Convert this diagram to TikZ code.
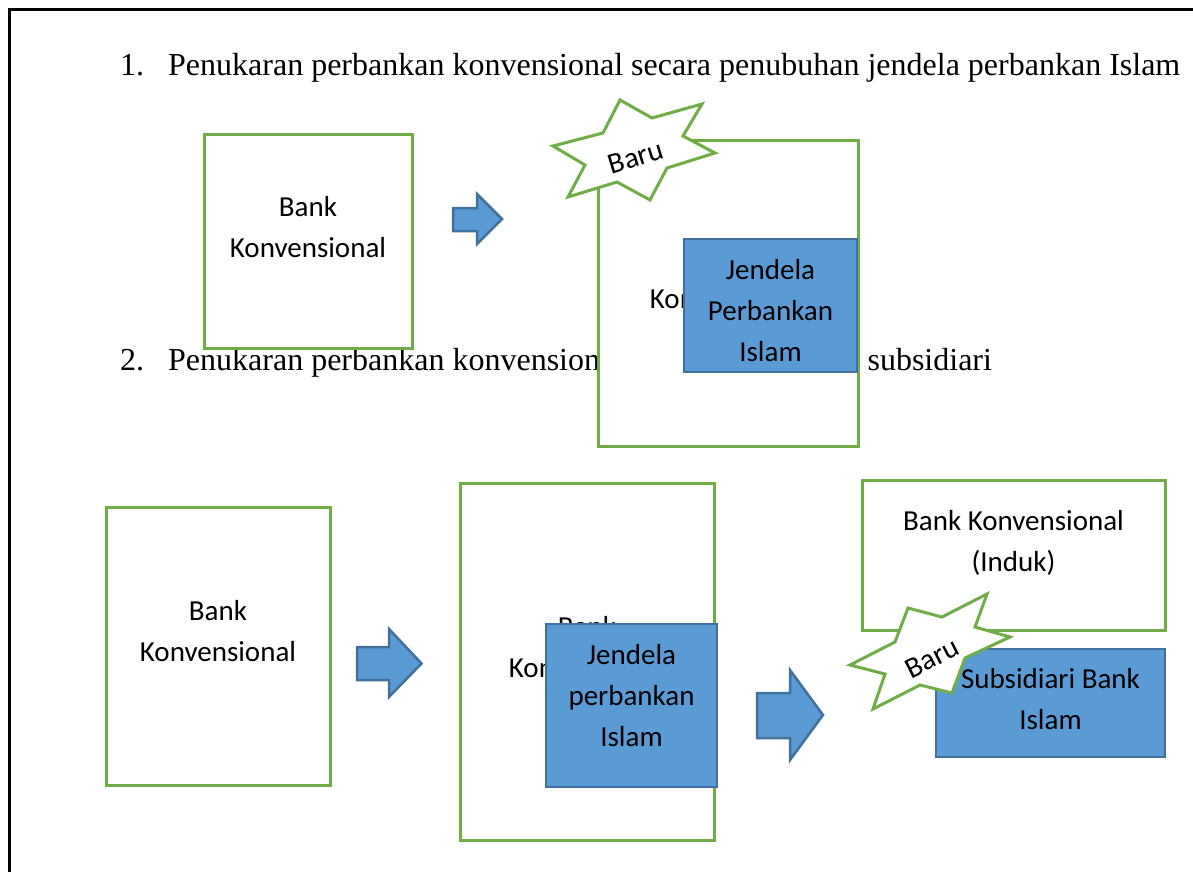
\documentclass[tikz,border=0pt]{standalone}
\usepackage{fontspec}
\setmainfont{Liberation Serif}
\newfontfamily\boxfont{Carlito}
\definecolor{grn}{HTML}{70AD47}
\definecolor{bfill}{HTML}{5B9BD5}
\definecolor{bline}{HTML}{41719C}
\begin{document}
\begin{tikzpicture}[x=1pt,y=-1pt,
 greenbox/.style={draw=grn,line width=3pt,fill=white,anchor=north west,inner sep=0pt,outer sep=0pt},
 bluebox/.style={draw=bline,line width=2.5pt,fill=bfill,anchor=north west,inner sep=0pt,outer sep=0pt},
 blockarrow/.style={draw=bline,line width=2.5pt,fill=bfill,line join=miter},
 starshape/.style={draw=grn,line width=3pt,fill=white,line join=miter},
 boxtxt/.style={font=\boxfont\fontsize{29}{41}\selectfont,anchor=base,inner sep=0pt},
 barutxt/.style={font=\boxfont\fontsize{29.5}{41}\selectfont,anchor=center,inner sep=0pt},
 listtxt/.style={font=\fontsize{32}{38}\selectfont,anchor=base west,inner sep=0pt},
]
\useasboundingbox (0,0) rectangle (1193,872);
\fill[white] (0,0) rectangle (1193,872);
\draw[line width=3pt] (9.5,872) -- (9.5,10) -- (1193,10);

% list lines
\node[listtxt] (n1) at (120,75.5) {1.};
\node[listtxt] (l1) at (168,75.5) {Penukaran perbankan konvensional secara penubuhan jendela perbankan Islam};
\node[listtxt] (n2) at (120,370.5) {2.};
\node[listtxt] (l2) at (168,370.5) {Penukaran perbankan konvensional secara penubuhan subsidiari};

% section 1
\node[greenbox,minimum width=208pt,minimum height=214pt] (boxA) at (204,134) {};
\node[boxtxt] (boxAa) at (308,216) {Bank};
\node[boxtxt] (boxAb) at (308,257) {Konvensional};

\draw[blockarrow] (453,208) -- (477,208) -- (477,194) -- (502,219) -- (477,244) -- (477,231) -- (453,231) -- cycle;

\node[greenbox,minimum width=260pt,minimum height=306pt] (boxB) at (598,140) {};
\node[boxtxt] (boxBa) at (728,267) {Bank};
\node[boxtxt] (boxBb) at (728,308) {Konvensional};

\node[bluebox,minimum width=173pt,minimum height=133pt] (win1) at (684,239) {};
\node[boxtxt] (win1a) at (770.5,279) {Jendela};
\node[boxtxt] (win1b) at (770.5,320) {Perbankan};
\node[boxtxt] (win1c) at (770.5,361) {Islam};

\draw[starshape] (620,100) -- (652,118) -- (702,104) -- (683,136) -- (715,153) -- (667,168)
  -- (650,200) -- (617,182) -- (568,197) -- (585,165) -- (553,146) -- (603,133) -- cycle;
\node[barutxt,rotate=17] (baru1) at (636,157) {Baru};

% section 2
\node[greenbox,minimum width=224pt,minimum height=278pt] (boxC) at (106,507) {};
\node[boxtxt] (boxCa) at (218,620) {Bank};
\node[boxtxt] (boxCb) at (218,661) {Konvensional};

\draw[blockarrow] (357,647) -- (389,647) -- (389,629) -- (421.5,663.5) -- (389,697) -- (389,680) -- (357,680) -- cycle;

\node[greenbox,minimum width=254pt,minimum height=357pt] (boxD) at (460,483) {};
\node[boxtxt] (boxDa) at (587,636) {Bank};
\node[boxtxt] (boxDb) at (587,677) {Konvensional};

\node[bluebox,minimum width=171pt,minimum height=163pt] (win2) at (546,624) {};
\node[boxtxt] (win2a) at (631.5,664) {Jendela};
\node[boxtxt] (win2b) at (631.5,705) {perbankan};
\node[boxtxt] (win2c) at (631.5,746) {Islam};

\draw[blockarrow] (757,693) -- (790,693) -- (790,670) -- (823,715) -- (790,760) -- (790,738) -- (757,738) -- cycle;

\node[greenbox,minimum width=303pt,minimum height=150pt] (boxE) at (862,480) {};
\node[boxtxt] (boxEa) at (1013.5,530) {Bank Konvensional};
\node[boxtxt] (boxEb) at (1013.5,571) {(Induk)};

\node[bluebox,minimum width=229pt,minimum height=108pt] (sub) at (936,649) {};
\node[boxtxt] (suba) at (1050.5,688) {Subsidiari Bank};
\node[boxtxt] (subb) at (1050.5,729) {Islam};

\draw[starshape] (908,608) -- (942,617) -- (987,594) -- (975,627) -- (1010,637) -- (965,658)
  -- (952,693) -- (920,685) -- (873,709) -- (885,674) -- (850,665) -- (895,642) -- cycle;
\node[barutxt,rotate=27] (baru2) at (932,658) {Baru};
\end{tikzpicture}
\end{document}
